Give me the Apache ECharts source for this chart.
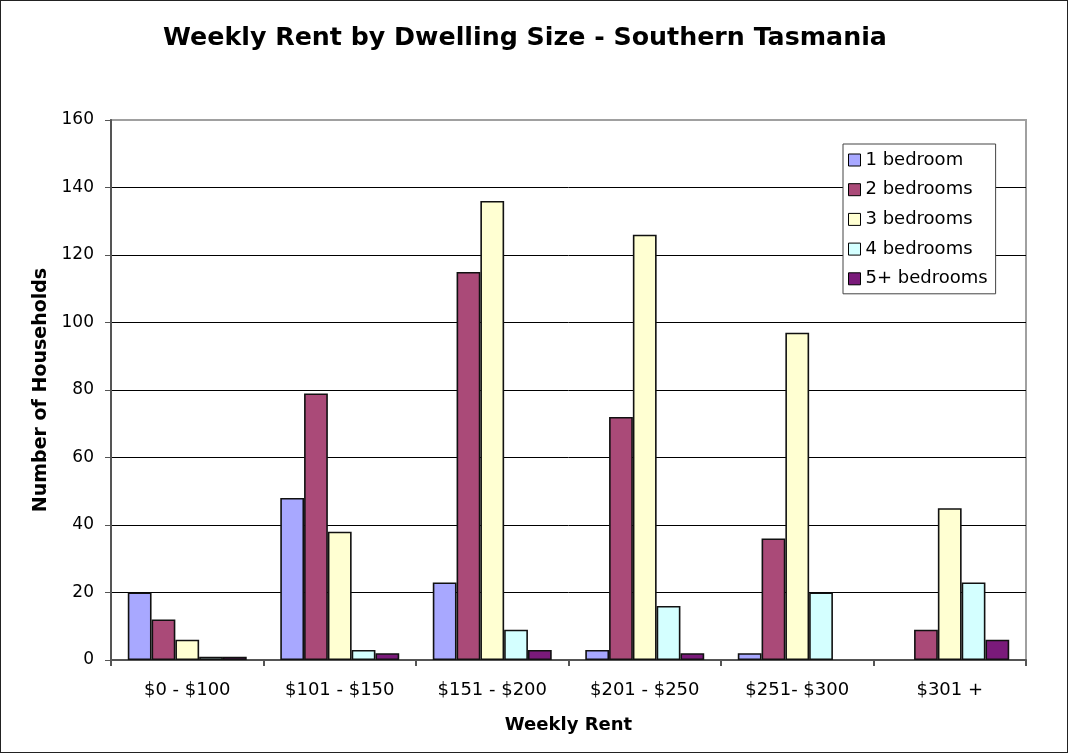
<!DOCTYPE html>
<html><head><meta charset="utf-8">
<script src="https://cdn.jsdelivr.net/npm/echarts@6/dist/echarts.min.js"></script>
<style>html,body{margin:0;padding:0;background:#fff}#c{width:1068px;height:753px;box-sizing:border-box;border:1px solid #222}</style>
</head><body><div id="c"></div>
<script>
const categories = ['$0 - $100', '$101 - $150', '$151 - $200', '$201 - $250', '$251- $300', '$301 +'];
const seriesNames = ['1 bedroom', '2 bedrooms', '3 bedrooms', '4 bedrooms', '5+ bedrooms'];
const oneBed = [20, 48, 23, 3, 2, 0];
const twoBed = [12, 79, 115, 72, 36, 9];
const threeBed = [6, 38, 136, 126, 97, 45];
const fourBed = [1, 3, 9, 16, 20, 23];
const fiveBed = [1, 2, 3, 2, 0, 6];
const yTicks = [0, 20, 40, 60, 80, 100, 120, 140, 160];
const colors = ['#A8A8FF', '#AA4A78', '#FFFFD2', '#D4FFFF', '#7A1A7A'];

const values = [oneBed, twoBed, threeBed, fourBed, fiveBed];
const font = 'DejaVu Sans, Verdana, sans-serif';
const chart = echarts.init(document.getElementById('c'), null, {renderer: 'canvas'});
chart.setOption({
  animation: false,
  title: {
    text: 'Weekly Rent by Dwelling Size - Southern Tasmania',
    left: 519, top: 20, textAlign: 'center',
    textStyle: {fontFamily: font, fontWeight: 'bold', fontSize: 25.3, color: '#000'}
  },
  grid: {left: 110, right: 41, top: 119, bottom: 92, show: true, borderColor: '#a0a0a0', borderWidth: 2},
  legend: {
    orient: 'vertical', left: 842, top: 143,
    backgroundColor: '#fff', borderColor: '#444', borderWidth: 1,
    padding: [6, 8, 5, 5], itemGap: 9.7, itemWidth: 12, itemHeight: 12,
    icon: 'rect',
    textStyle: {fontFamily: font, fontSize: 18, lineHeight: 20, color: '#000'},
    itemStyle: {borderColor: '#000', borderWidth: 1},
    data: seriesNames
  },
  xAxis: {
    type: 'category', data: categories,
    name: 'Weekly Rent', nameLocation: 'middle', nameGap: 56,
    nameTextStyle: {fontFamily: font, fontWeight: 'bold', fontSize: 18, color: '#000'},
    axisLine: {lineStyle: {color: '#555', width: 2}},
    axisTick: {show: true, length: 6, lineStyle: {color: '#555', width: 2}},
    axisLabel: {fontFamily: font, fontSize: 18, color: '#000', margin: 21}
  },
  yAxis: {
    type: 'value', min: yTicks[0], max: yTicks[yTicks.length - 1], interval: 20,
    name: 'Number of Households', nameLocation: 'middle', nameGap: 57,
    nameTextStyle: {fontFamily: font, fontWeight: 'bold', fontSize: 19, color: '#000'},
    axisLine: {show: true, lineStyle: {color: '#555', width: 2}},
    axisTick: {show: true, length: 6, lineStyle: {color: '#555', width: 1}},
    axisLabel: {fontFamily: font, fontSize: 17, color: '#000', margin: 17},
    splitLine: {show: true, showMinLine: false, showMaxLine: false, lineStyle: {color: '#000', width: 1}}
  },
  series: seriesNames.map((n, i) => ({
    name: n, type: 'bar',
    data: values[i].map(v => v === 0 ? {value: v, itemStyle: {borderWidth: 0}} : v),
    barGap: '0%', barCategoryGap: '22%',
    itemStyle: {color: colors[i], borderColor: '#111', borderWidth: 1.6}
  }))
});
</script></body></html>
